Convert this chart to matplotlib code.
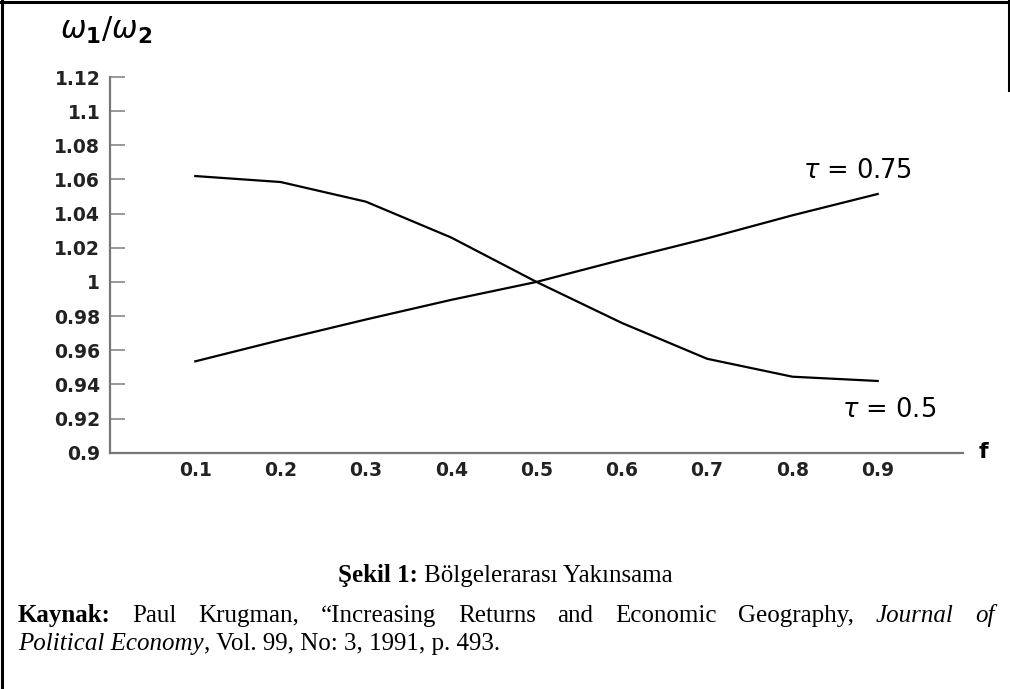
import matplotlib
matplotlib.use('Agg')
import matplotlib.pyplot as plt
from matplotlib.lines import Line2D

# Regional wage ratio w1/w2 against share of manufacturing f (Krugman 1991)
f = [0.1, 0.2, 0.3, 0.4, 0.5, 0.6, 0.7, 0.8, 0.9]
tau_050 = [1.062, 1.0585, 1.047, 1.026, 1.000, 0.976, 0.955, 0.9445, 0.942]
tau_075 = [0.9535, 0.966, 0.978, 0.9895, 1.000, 1.013, 1.0255, 1.039, 1.0515]

y_ticks = [0.9, 0.92, 0.94, 0.96, 0.98, 1.0, 1.02, 1.04, 1.06, 1.08, 1.1, 1.12]
y_labels = ['0.9', '0.92', '0.94', '0.96', '0.98', '1', '1.02', '1.04', '1.06', '1.08', '1.1', '1.12']
x_labels = ['0.1', '0.2', '0.3', '0.4', '0.5', '0.6', '0.7', '0.8', '0.9']

W, H = 1010, 689
fig = plt.figure(figsize=(W / 100, H / 100), dpi=100)
plt.rcParams['mathtext.fontset'] = 'dejavusans'

# axes placed in pixel terms of the reference
ax = fig.add_axes([110 / W, 1 - 452.7 / H, (963 - 110) / W, (452.7 - 77) / H])
ax.plot(f, tau_050, color='black', lw=1.6)
ax.plot(f, tau_075, color='black', lw=1.6)
ax.set_xlim(0, 1.0)
ax.set_ylim(0.9, 1.12)
ax.set_xticks(f)
ax.set_xticklabels(x_labels, fontsize=13.5, fontweight='bold', color='#222222')
ax.set_yticks(y_ticks)
ax.set_yticklabels(y_labels, fontsize=13.5, fontweight='bold', color='#222222')
for s in ['top', 'right']:
    ax.spines[s].set_visible(False)
for s in ['left', 'bottom']:
    ax.spines[s].set_color('#777777')
    ax.spines[s].set_linewidth(1.6)
ax.tick_params(axis='y', direction='in', length=11, width=1.2, color='#888888', pad=7)
ax.tick_params(axis='x', length=0, pad=6)


def px(x, y):
    return x / W, 1 - y / H


# axis labels and curve labels
fig.text(*px(60, 30), r'$\omega_{\mathbf{1}}/\omega_{\mathbf{2}}$', fontsize=22, va='center', ha='left')
fig.text(*px(983, 452), 'f', fontsize=16, fontweight='bold', va='center', ha='center')
fig.text(*px(803, 178), r'$\tau$ = 0.75', fontsize=18.5, va='baseline', ha='left')
fig.text(*px(842, 417), r'$\tau$ = 0.5', fontsize=18.5, va='baseline', ha='left')

# caption and source, Times-like serif
serif = 'Liberation Serif'
fs = 18
renderer = fig.canvas.get_renderer()


def put(x, y, s, weight='normal', style='normal'):
    return fig.text(*px(x, y), s, fontsize=fs, family=serif, fontweight=weight,
                    fontstyle=style, va='baseline', ha='left')


def width(t):
    return t.get_window_extent(renderer).width


space = fs * 100 / 72 * 0.25

# caption, centred
cap = [put(0, 582, 'Şekil 1:', 'bold'), put(0, 582, 'Bölgelerarası Yakınsama')]
total = width(cap[0]) + space + width(cap[1])
x = 505 - total / 2
for t in cap:
    t.set_position(px(x, 582))
    x += width(t) + space

# first source line, justified between the margins
words = [('Kaynak:', 'bold', 'normal'), ('Paul', 'normal', 'normal'),
         ('Krugman,', 'normal', 'normal'), ('\u201cIncreasing', 'normal', 'normal'),
         ('Returns', 'normal', 'normal'), ('and', 'normal', 'normal'),
         ('Economic', 'normal', 'normal'), ('Geography,', 'normal', 'normal'),
         ('Journal', 'normal', 'italic'), ('of', 'normal', 'italic')]
texts = [put(0, 622, w, wt, st) for w, wt, st in words]
widths = [width(t) for t in texts]
gap = (995 - 18 - sum(widths)) / (len(texts) - 1)
x = 18
for t, wd in zip(texts, widths):
    t.set_position(px(x, 622))
    x += wd + gap

# second source line
x = 18
for s, st in [('Political Economy', 'italic'), (', Vol. 99, No: 3, 1991, p. 493.', 'normal')]:
    t = put(x, 650, s, 'normal', st)
    x += width(t)

# frame around the figure box
fig.add_artist(Line2D([1.5 / W, 1.5 / W], [0, 1], transform=fig.transFigure, color='black', lw=2.2))
fig.add_artist(Line2D([0, 1], [1 - 1.5 / H, 1 - 1.5 / H], transform=fig.transFigure, color='black', lw=2.2))
fig.add_artist(Line2D([1 - 1.5 / W, 1 - 1.5 / W], [1 - 90 / H, 1], transform=fig.transFigure, color='black', lw=2.2))

fig.savefig('out.png', dpi=100)
